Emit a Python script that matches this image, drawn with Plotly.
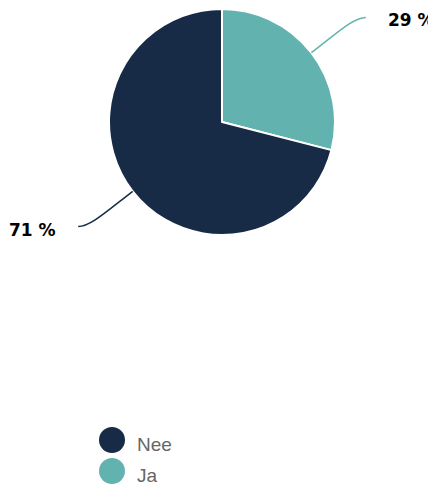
import math
import plotly.graph_objects as go

# reference canvas in pixels; the page body adds an 8px margin, so the figure
# is 8px smaller and the hidden axes start at 8 to keep pixel coordinates
W, H, OFF = 436, 485, 8

labels = ["Nee", "Ja"]
values = [71, 29]
colors = ["#172b47", "#62b3b0"]

# pie geometry in pixels
cx, cy, r = 222, 122, 113


def fx(px):
    return (px - OFF) / (W - OFF)


def fy(py):
    return 1 - (py - OFF) / (H - OFF)


fig = go.Figure()

# Ja is drawn first, clockwise from 12 o'clock
fig.add_trace(go.Pie(
    labels=labels[::-1],
    values=values[::-1],
    sort=False,
    direction="clockwise",
    rotation=0,
    marker=dict(colors=colors[::-1], line=dict(color="white", width=2)),
    textinfo="none",
    hoverinfo="label+percent",
    showlegend=False,
    domain=dict(x=[fx(cx - r), fx(cx + r)], y=[fy(cy + r), fy(cy - r)]),
))

# outside labels with curved connectors, placed from the slice mid angles
total = sum(values)
shapes, annos = [], []
start = 0.0  # clockwise angle from 12 o'clock
for lab, val, col in zip(labels[::-1], values[::-1], colors[::-1]):
    frac = val / total
    mid = start + frac * 360 / 2
    start += frac * 360
    a = math.radians(mid)
    sx, sy = math.sin(a), -math.cos(a)
    side = 1 if sx >= 0 else -1
    p0 = (cx + r * sx, cy + r * sy)
    c1 = (cx + 1.3 * r * sx, cy + 1.3 * r * sy)
    end = (cx + 1.51 * r * sx + side * 9, cy + 1.51 * r * sy)
    c2 = (end[0] - side * 12, end[1])
    shapes.append(dict(
        type="path", xref="x", yref="y",
        path=f"M {p0[0]:.1f},{p0[1]:.1f} C {c1[0]:.1f},{c1[1]:.1f} {c2[0]:.1f},{c2[1]:.1f} {end[0]:.1f},{end[1]:.1f}",
        line=dict(color=col, width=1.5),
    ))
    annos.append(dict(
        x=end[0] + side * 20, y=end[1] + 3, xref="x", yref="y",
        text=f"{round(frac * 100)} %", showarrow=False,
        xanchor="left" if side > 0 else "right", yanchor="middle",
        font=dict(family="DejaVu Sans", size=17, color="#000000", weight="bold"),
    ))

# legend with round swatches
for i, (lab, col) in enumerate(zip(labels, colors)):
    ly = 440 + i * 31
    shapes.append(dict(
        type="circle", xref="x", yref="y",
        x0=112 - 13, x1=112 + 13, y0=ly - 13, y1=ly + 13,
        fillcolor=col, line=dict(width=0),
    ))
    annos.append(dict(
        x=136, y=ly + 4, xref="x", yref="y",
        text=lab, showarrow=False, xanchor="left", yanchor="middle", borderpad=0,
        font=dict(family="Liberation Sans, Arial", size=19, color="#666666"),
    ))

fig.update_layout(
    width=W - OFF, height=H - OFF,
    margin=dict(l=0, r=0, t=0, b=0),
    paper_bgcolor="white",
    plot_bgcolor="rgba(0,0,0,0)",
    xaxis=dict(range=[OFF, W], visible=False, fixedrange=True),
    yaxis=dict(range=[H, OFF], visible=False, fixedrange=True),
    shapes=shapes,
    annotations=annos,
    showlegend=False,
)

fig.write_html("out.html")
